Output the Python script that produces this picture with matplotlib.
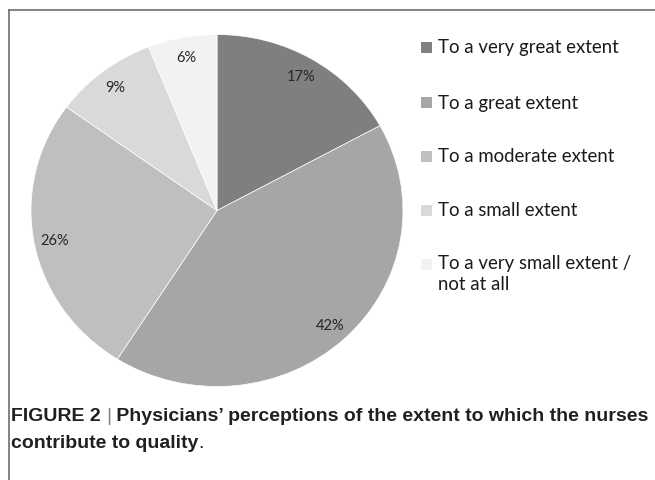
import matplotlib
matplotlib.use("Agg")
import matplotlib.pyplot as plt
from matplotlib.patches import Rectangle
from matplotlib.lines import Line2D

# data
labels = [
    "To a very great extent",
    "To a great extent",
    "To a moderate extent",
    "To a small extent",
    "To a very small extent /\nnot at all",
]
values = [17, 42, 26, 9, 6]
colors = ["#7f7f7f", "#a6a6a6", "#bfbfbf", "#d9d9d9", "#f2f2f2"]

W, H = 655, 481
fig = plt.figure(figsize=(W / 100, H / 100), dpi=100)
fig.patch.set_facecolor("white")

# pie, slightly wider than tall like the reference
cx, cy, rx, ry = 217, 211.5, 186, 176
ax = fig.add_axes([(cx - rx) / W, 1 - (cy + ry) / H, 2 * rx / W, 2 * ry / H])
wedges, texts, autotexts = ax.pie(
    values,
    colors=colors,
    startangle=90,
    counterclock=False,
    autopct="%d%%",
    pctdistance=0.89,
    wedgeprops=dict(linewidth=0.5, edgecolor="white"),
    textprops=dict(fontsize=10.5, color="#262626", family="Lato"),
)
ax.set_aspect("auto")
ax.set_xlim(-1, 1)
ax.set_ylim(-1, 1)
ax.axis("off")

# legend drawn by hand to match spacing
row_y = [48, 103, 157, 211, 265]
for lab, col, y in zip(labels, colors, row_y):
    fig.patches.append(Rectangle((421 / W, 1 - (y + 5.5) / H), 11 / W, 11 / H,
                                 transform=fig.transFigure, facecolor=col,
                                 edgecolor="none"))
    multi = "\n" in lab
    fig.text(438 / W, 1 - ((y - 10) if multi else y) / H, lab, fontsize=13.4,
             family="Lato", color="#1a1a1a", va="top" if multi else "center",
             linespacing=1.3)

# frame lines (top and left)
fig.add_artist(Line2D([9 / W, 1.0], [1 - 11 / H, 1 - 11 / H], color="#6e6e6e", lw=1.2))
fig.add_artist(Line2D([9 / W, 9 / W], [1 - 11 / H, 0.0], color="#6e6e6e", lw=1.2))

# caption
fig.canvas.draw()
r = fig.canvas.get_renderer()
cap_kw = dict(fontsize=14, family="Liberation Sans", color="#231f20", va="baseline")


def put(x, y, s, **kw):
    t = fig.text(x / W, 1 - y / H, s, **{**cap_kw, **kw})
    bb = t.get_window_extent(renderer=r)
    return x + bb.width


x = put(11, 421, "FIGURE 2 ", weight="bold")
x = put(x, 421, "|", weight="light", color="#808080")
put(x, 421, " Physicians\u2019 perceptions of the extent to which the nurses", weight="bold")
x = put(11, 448, "contribute to quality", weight="bold")
put(x, 448, ".")

fig.savefig("out.png", dpi=100)
